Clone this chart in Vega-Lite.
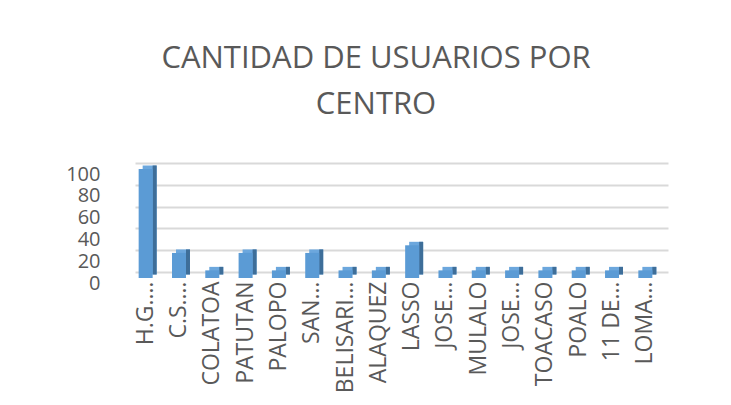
{
  "$schema": "https://vega.github.io/schema/vega-lite/v6.json",
  "width": 533,
  "height": 109,
  "autosize": {"type": "none"},
  "padding": {"left": 135, "top": 163, "right": 63, "bottom": 133},
  "background": "white",
  "config": {
    "view": {"stroke": null},
    "font": "Open Sans"
  },
  "title": {
    "text": ["CANTIDAD DE USUARIOS POR", "CENTRO"],
    "font": "Open Sans",
    "fontSize": 31,
    "fontWeight": "normal",
    "color": "#595959",
    "anchor": "middle",
    "baseline": "bottom",
    "lineHeight": 46.5,
    "offset": 11,
    "dx": -25.5
  },
  "data": {
    "values": [
      {"centro": "H.G.…|1", "usuarios": 100},
      {"centro": "C.S.…|2", "usuarios": 23},
      {"centro": "COLATOA|3", "usuarios": 7},
      {"centro": "PATUTAN|4", "usuarios": 23},
      {"centro": "PALOPO|5", "usuarios": 7},
      {"centro": "SAN…|6", "usuarios": 23},
      {"centro": "BELISARI…|7", "usuarios": 7},
      {"centro": "ALAQUEZ|8", "usuarios": 7},
      {"centro": "LASSO|9", "usuarios": 30},
      {"centro": "JOSE…|10", "usuarios": 7},
      {"centro": "MULALO|11", "usuarios": 7},
      {"centro": "JOSE…|12", "usuarios": 7},
      {"centro": "TOACASO|13", "usuarios": 7},
      {"centro": "POALO|14", "usuarios": 7},
      {"centro": "11 DE…|15", "usuarios": 7},
      {"centro": "LOMA…|16", "usuarios": 7}
    ]
  },
  "encoding": {
    "x": {
      "field": "centro",
      "type": "nominal",
      "sort": null,
      "scale": {"paddingInner": 0, "paddingOuter": 0},
      "axis": {
        "title": null,
        "domain": false,
        "ticks": false,
        "grid": false,
        "labelAngle": -90,
        "labelFont": "Open Sans",
        "labelFontSize": 23,
        "labelColor": "#595959",
        "labelPadding": 9,
        "labelOffset": -6,
        "labelLimit": 200,
        "labelExpr": "indexof(split(datum.value,'|')[0],'…') < 0 ? split(datum.value,'|')[0] + '\u00a0\u00a0\u00a0' : split(datum.value,'|')[0]"
      }
    },
    "y": {
      "field": "usuarios",
      "type": "quantitative",
      "scale": {"domain": [0, 100], "nice": false},
      "axis": {
        "title": null,
        "domain": false,
        "ticks": false,
        "values": [0, 20, 40, 60, 80, 100],
        "grid": true,
        "gridColor": "#d9d9d9",
        "gridWidth": 1.8,
        "labelFont": "Open Sans",
        "labelFontSize": 20,
        "labelColor": "#595959",
        "labelPadding": 35,
        "labelOffset": 11
      }
    }
  },
  "layer": [
    {
      "mark": {"type": "bar", "width": 14, "color": "#6ca7dd", "xOffset": -2, "yOffset": 2.5, "y2Offset": 2.5}
    },
    {
      "mark": {"type": "bar", "width": 4, "color": "#3e6e99", "xOffset": 3, "yOffset": 2.5, "y2Offset": 2.5}
    },
    {
      "mark": {"type": "bar", "width": 14, "color": "#5b9bd5", "xOffset": -6, "yOffset": 6, "y2Offset": 6}
    }
  ]
}
